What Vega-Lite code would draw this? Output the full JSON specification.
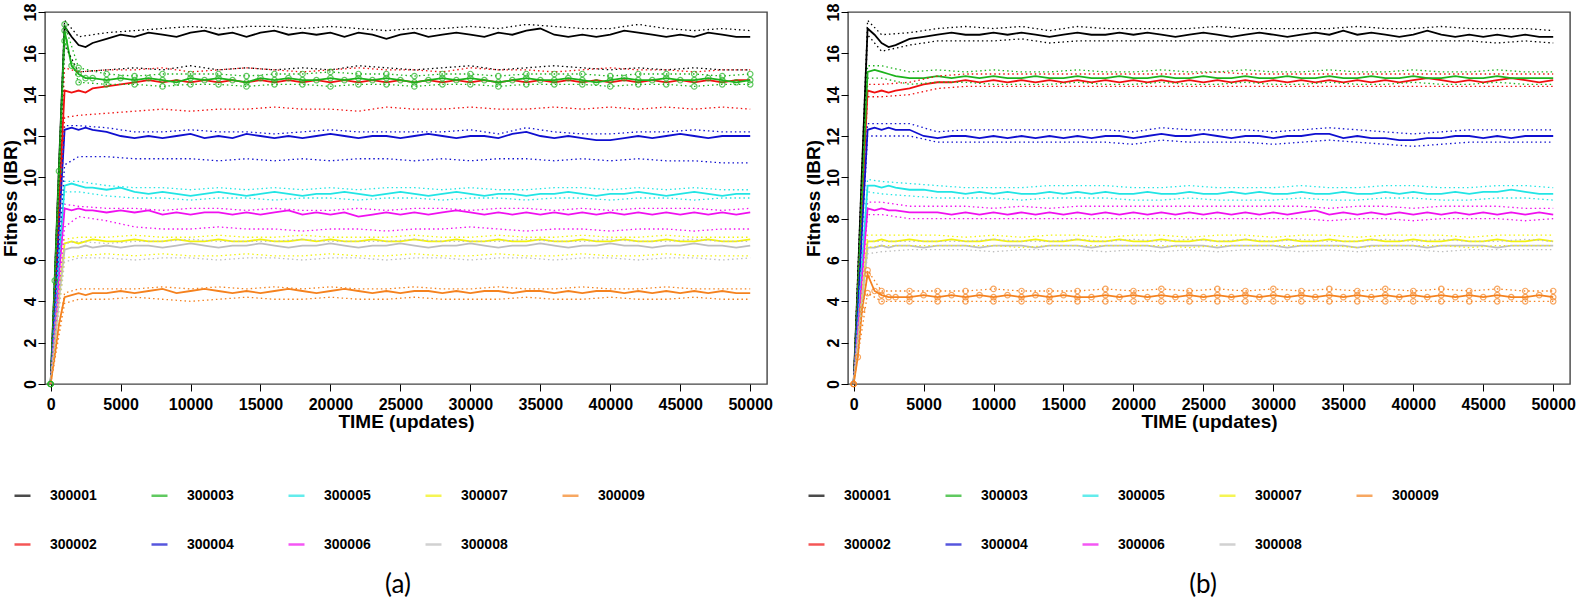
{
"$schema": "https://vega.github.io/schema/vega-lite/v6.json",
"background": "white",
"padding": {"left": 0, "top": 2, "right": 0, "bottom": 0},
"bounds": "flush",
"spacing": 81,
"config": {
  "view": {"stroke": "#444", "strokeWidth": 1.4},
  "axis": {"labelFont": "Liberation Sans", "labelFontWeight": "bold", "labelFontSize": 16, "labelColor": "#000", "titleFont": "Liberation Sans", "titleFontWeight": "bold", "titleFontSize": 19, "titleColor": "#000", "tickColor": "#000", "tickSize": 7, "tickWidth": 1, "domain": false, "grid": false},
  "axisX": {"labelPadding": 5, "titlePadding": 0},
  "axisY": {"labelAngle": -90, "labelAlign": "center", "labelBaseline": "alphabetic", "labelPadding": 3, "titlePadding": 2},
  "legend": {"orient": "none", "direction": "horizontal", "columns": 5, "symbolType": "stroke", "symbolSize": 256, "symbolStrokeWidth": 2.5, "labelFont": "Liberation Sans", "labelFontWeight": "bold", "labelFontSize": 14, "labelColor": "#000", "labelOffset": 18, "columnPadding": 49, "rowPadding": 32}
},
"datasets": {
"am": [
{"t":0,"1":0,"2":0,"3":0,"4":0,"5":0,"6":0,"7":0,"8":0,"9":0},
{"t":300,"1":5.2,"2":4.3,"3":5.0,"4":3.7,"5":2.9,"6":2.6,"7":2.1,"8":2.0,"9":1.4},
{"t":600,"1":10.6,"2":8.8,"3":10.3,"4":7.6,"5":6.0,"6":5.3,"7":4.3,"8":4.1,"9":2.9},
{"t":1000,"1":17.3,"2":14.2,"3":17.1,"4":12.3,"5":9.6,"6":8.5,"7":6.8,"8":6.5,"9":4.2},
{"t":1500,"1":16.8,"2":14.1,"3":15.4,"4":12.4,"5":9.7,"6":8.4,"7":6.9,"8":6.6,"9":4.3},
{"t":2000,"1":16.4,"2":14.2,"3":15.0,"4":12.3,"5":9.6,"6":8.5,"7":6.8,"8":6.6,"9":4.4},
{"t":2500,"1":16.3,"2":14.1,"3":14.8,"4":12.4,"5":9.5,"6":8.4,"7":6.9,"8":6.7,"9":4.3},
{"t":3000,"1":16.5,"2":14.3,"3":14.8,"4":12.3,"5":9.5,"6":8.4,"7":7.0,"8":6.6,"9":4.4},
{"t":4000,"1":16.7,"2":14.4,"3":14.7,"4":12.2,"5":9.4,"6":8.3,"7":6.9,"8":6.7,"9":4.4},
{"t":5000,"1":16.9,"2":14.5,"3":14.8,"4":12.0,"5":9.5,"6":8.4,"7":6.9,"8":6.6,"9":4.5},
{"t":6000,"1":16.8,"2":14.6,"3":14.7,"4":11.9,"5":9.3,"6":8.3,"7":7.0,"8":6.7,"9":4.4},
{"t":7000,"1":17.0,"2":14.7,"3":14.8,"4":12.0,"5":9.2,"6":8.4,"7":6.9,"8":6.7,"9":4.5},
{"t":8000,"1":16.9,"2":14.6,"3":14.7,"4":11.9,"5":9.3,"6":8.2,"7":6.9,"8":6.6,"9":4.6},
{"t":9000,"1":16.8,"2":14.7,"3":14.6,"4":12.0,"5":9.2,"6":8.3,"7":7.0,"8":6.7,"9":4.4},
{"t":10000,"1":17.0,"2":14.6,"3":14.8,"4":12.1,"5":9.1,"6":8.2,"7":6.9,"8":6.8,"9":4.5},
{"t":11000,"1":17.1,"2":14.7,"3":14.7,"4":11.9,"5":9.2,"6":8.3,"7":6.9,"8":6.7,"9":4.6},
{"t":12000,"1":16.9,"2":14.6,"3":14.8,"4":12.0,"5":9.3,"6":8.3,"7":7.0,"8":6.6,"9":4.5},
{"t":13000,"1":17.0,"2":14.7,"3":14.7,"4":11.9,"5":9.2,"6":8.2,"7":6.9,"8":6.7,"9":4.4},
{"t":14000,"1":16.8,"2":14.6,"3":14.6,"4":12.1,"5":9.1,"6":8.3,"7":6.9,"8":6.7,"9":4.5},
{"t":15000,"1":17.0,"2":14.7,"3":14.8,"4":12.0,"5":9.2,"6":8.2,"7":7.0,"8":6.8,"9":4.4},
{"t":16000,"1":17.1,"2":14.6,"3":14.7,"4":11.9,"5":9.3,"6":8.3,"7":6.9,"8":6.7,"9":4.5},
{"t":17000,"1":16.9,"2":14.7,"3":14.8,"4":12.0,"5":9.2,"6":8.4,"7":6.9,"8":6.6,"9":4.6},
{"t":18000,"1":17.0,"2":14.6,"3":14.7,"4":11.9,"5":9.1,"6":8.2,"7":7.0,"8":6.7,"9":4.5},
{"t":19000,"1":16.9,"2":14.7,"3":14.7,"4":12.0,"5":9.2,"6":8.3,"7":6.9,"8":6.7,"9":4.4},
{"t":20000,"1":17.0,"2":14.6,"3":14.8,"4":12.1,"5":9.2,"6":8.2,"7":7.0,"8":6.8,"9":4.5},
{"t":21000,"1":16.8,"2":14.7,"3":14.7,"4":12.0,"5":9.3,"6":8.3,"7":6.9,"8":6.7,"9":4.6},
{"t":22000,"1":17.0,"2":14.6,"3":14.8,"4":11.9,"5":9.2,"6":8.1,"7":6.9,"8":6.6,"9":4.5},
{"t":23000,"1":16.9,"2":14.7,"3":14.7,"4":12.0,"5":9.1,"6":8.2,"7":7.0,"8":6.7,"9":4.4},
{"t":24000,"1":16.7,"2":14.6,"3":14.8,"4":12.0,"5":9.2,"6":8.3,"7":6.9,"8":6.7,"9":4.5},
{"t":25000,"1":16.9,"2":14.7,"3":14.7,"4":11.9,"5":9.3,"6":8.2,"7":6.9,"8":6.8,"9":4.4},
{"t":26000,"1":17.0,"2":14.6,"3":14.6,"4":12.0,"5":9.2,"6":8.3,"7":7.0,"8":6.7,"9":4.5},
{"t":27000,"1":16.8,"2":14.7,"3":14.7,"4":12.1,"5":9.1,"6":8.2,"7":6.9,"8":6.6,"9":4.5},
{"t":28000,"1":16.9,"2":14.6,"3":14.8,"4":12.0,"5":9.2,"6":8.3,"7":6.9,"8":6.7,"9":4.4},
{"t":29000,"1":17.0,"2":14.7,"3":14.7,"4":11.9,"5":9.3,"6":8.4,"7":7.0,"8":6.7,"9":4.5},
{"t":30000,"1":16.9,"2":14.6,"3":14.8,"4":12.0,"5":9.2,"6":8.3,"7":6.9,"8":6.8,"9":4.4},
{"t":31000,"1":16.8,"2":14.7,"3":14.7,"4":12.0,"5":9.1,"6":8.2,"7":6.9,"8":6.7,"9":4.5},
{"t":32000,"1":17.0,"2":14.6,"3":14.6,"4":11.9,"5":9.2,"6":8.3,"7":7.0,"8":6.6,"9":4.5},
{"t":33000,"1":16.9,"2":14.7,"3":14.7,"4":12.1,"5":9.2,"6":8.2,"7":6.9,"8":6.7,"9":4.4},
{"t":34000,"1":17.1,"2":14.6,"3":14.8,"4":12.2,"5":9.1,"6":8.3,"7":6.9,"8":6.7,"9":4.5},
{"t":35000,"1":17.2,"2":14.7,"3":14.7,"4":12.0,"5":9.2,"6":8.2,"7":7.0,"8":6.8,"9":4.5},
{"t":36000,"1":16.9,"2":14.6,"3":14.7,"4":11.9,"5":9.2,"6":8.3,"7":6.9,"8":6.7,"9":4.4},
{"t":37000,"1":16.8,"2":14.7,"3":14.8,"4":12.0,"5":9.3,"6":8.2,"7":6.9,"8":6.6,"9":4.5},
{"t":38000,"1":16.9,"2":14.6,"3":14.7,"4":11.9,"5":9.2,"6":8.3,"7":7.0,"8":6.7,"9":4.4},
{"t":39000,"1":16.8,"2":14.7,"3":14.6,"4":11.8,"5":9.1,"6":8.2,"7":6.9,"8":6.7,"9":4.5},
{"t":40000,"1":16.9,"2":14.6,"3":14.7,"4":11.8,"5":9.2,"6":8.3,"7":6.9,"8":6.8,"9":4.5},
{"t":41000,"1":17.1,"2":14.7,"3":14.8,"4":11.9,"5":9.2,"6":8.2,"7":7.0,"8":6.7,"9":4.4},
{"t":42000,"1":17.0,"2":14.6,"3":14.7,"4":12.0,"5":9.3,"6":8.3,"7":6.9,"8":6.7,"9":4.5},
{"t":43000,"1":16.9,"2":14.7,"3":14.7,"4":11.9,"5":9.2,"6":8.2,"7":6.9,"8":6.6,"9":4.4},
{"t":44000,"1":16.8,"2":14.6,"3":14.8,"4":12.0,"5":9.1,"6":8.3,"7":7.0,"8":6.7,"9":4.5},
{"t":45000,"1":16.9,"2":14.7,"3":14.7,"4":12.1,"5":9.2,"6":8.2,"7":6.9,"8":6.7,"9":4.4},
{"t":46000,"1":16.8,"2":14.6,"3":14.7,"4":12.0,"5":9.3,"6":8.3,"7":6.9,"8":6.8,"9":4.5},
{"t":47000,"1":17.0,"2":14.7,"3":14.8,"4":11.9,"5":9.2,"6":8.2,"7":7.0,"8":6.7,"9":4.4},
{"t":48000,"1":16.9,"2":14.6,"3":14.7,"4":12.0,"5":9.1,"6":8.3,"7":6.9,"8":6.7,"9":4.5},
{"t":49000,"1":16.8,"2":14.7,"3":14.6,"4":12.0,"5":9.2,"6":8.2,"7":6.9,"8":6.6,"9":4.4},
{"t":50000,"1":16.8,"2":14.7,"3":14.7,"4":12.0,"5":9.2,"6":8.3,"7":7.0,"8":6.7,"9":4.4}
],
"ab": [
{"k":"u","t":0,"1":0,"2":0,"3":0,"4":0,"5":0,"6":0,"7":0,"8":0,"9":0},
{"k":"u","t":1000,"1":17.6,"2":15.3,"3":17.4,"4":12.5,"5":9.8,"6":8.7,"7":7.0,"8":6.8,"9":4.4},
{"k":"u","t":2000,"1":16.8,"2":15.1,"3":15.3,"4":12.5,"5":9.8,"6":8.6,"7":7.1,"8":6.9,"9":4.6},
{"k":"u","t":4000,"1":17.0,"2":15.2,"3":15.0,"4":12.4,"5":9.6,"6":8.5,"7":7.1,"8":6.8,"9":4.6},
{"k":"u","t":6000,"1":17.1,"2":15.2,"3":14.9,"4":12.2,"5":9.5,"6":8.5,"7":7.2,"8":6.9,"9":4.6},
{"k":"u","t":8000,"1":17.2,"2":15.3,"3":15.0,"4":12.2,"5":9.5,"6":8.4,"7":7.1,"8":6.9,"9":4.7},
{"k":"u","t":10000,"1":17.3,"2":15.1,"3":15.0,"4":12.3,"5":9.4,"6":8.5,"7":7.1,"8":7.0,"9":4.6},
{"k":"u","t":12000,"1":17.2,"2":15.2,"3":15.0,"4":12.2,"5":9.5,"6":8.5,"7":7.2,"8":6.9,"9":4.7},
{"k":"u","t":14000,"1":17.3,"2":15.3,"3":14.9,"4":12.2,"5":9.4,"6":8.4,"7":7.1,"8":6.9,"9":4.6},
{"k":"u","t":16000,"1":17.3,"2":15.2,"3":15.0,"4":12.1,"5":9.5,"6":8.5,"7":7.1,"8":6.9,"9":4.7},
{"k":"u","t":18000,"1":17.2,"2":15.1,"3":15.0,"4":12.2,"5":9.4,"6":8.4,"7":7.2,"8":7.0,"9":4.6},
{"k":"u","t":20000,"1":17.3,"2":15.2,"3":15.1,"4":12.3,"5":9.5,"6":8.4,"7":7.1,"8":6.9,"9":4.7},
{"k":"u","t":22000,"1":17.2,"2":15.3,"3":15.0,"4":12.2,"5":9.4,"6":8.5,"7":7.1,"8":6.9,"9":4.6},
{"k":"u","t":24000,"1":17.1,"2":15.2,"3":15.0,"4":12.2,"5":9.5,"6":8.4,"7":7.1,"8":6.9,"9":4.6},
{"k":"u","t":26000,"1":17.2,"2":15.2,"3":14.9,"4":12.2,"5":9.5,"6":8.5,"7":7.2,"8":7.0,"9":4.7},
{"k":"u","t":28000,"1":17.2,"2":15.1,"3":15.0,"4":12.2,"5":9.4,"6":8.5,"7":7.1,"8":6.9,"9":4.6},
{"k":"u","t":30000,"1":17.3,"2":15.3,"3":15.0,"4":12.3,"5":9.5,"6":8.4,"7":7.1,"8":6.9,"9":4.6},
{"k":"u","t":32000,"1":17.2,"2":15.2,"3":14.9,"4":12.1,"5":9.4,"6":8.5,"7":7.2,"8":6.9,"9":4.7},
{"k":"u","t":34000,"1":17.4,"2":15.2,"3":15.0,"4":12.4,"5":9.4,"6":8.5,"7":7.1,"8":7.0,"9":4.6},
{"k":"u","t":36000,"1":17.3,"2":15.1,"3":15.0,"4":12.2,"5":9.5,"6":8.4,"7":7.1,"8":6.9,"9":4.6},
{"k":"u","t":38000,"1":17.2,"2":15.2,"3":15.0,"4":12.1,"5":9.5,"6":8.5,"7":7.2,"8":6.9,"9":4.7},
{"k":"u","t":40000,"1":17.2,"2":15.3,"3":14.9,"4":12.1,"5":9.4,"6":8.4,"7":7.1,"8":7.0,"9":4.6},
{"k":"u","t":42000,"1":17.4,"2":15.2,"3":15.0,"4":12.2,"5":9.5,"6":8.5,"7":7.1,"8":6.9,"9":4.6},
{"k":"u","t":44000,"1":17.2,"2":15.2,"3":15.0,"4":12.2,"5":9.4,"6":8.5,"7":7.2,"8":6.9,"9":4.7},
{"k":"u","t":46000,"1":17.1,"2":15.1,"3":15.0,"4":12.3,"5":9.5,"6":8.5,"7":7.1,"8":7.0,"9":4.6},
{"k":"u","t":48000,"1":17.2,"2":15.2,"3":14.9,"4":12.2,"5":9.4,"6":8.4,"7":7.1,"8":6.9,"9":4.6},
{"k":"u","t":50000,"1":17.1,"2":15.2,"3":15.0,"4":12.2,"5":9.4,"6":8.5,"7":7.1,"8":6.9,"9":4.6},
{"k":"l","t":0,"1":0,"2":0,"3":0,"4":0,"5":0,"6":0,"7":0,"8":0,"9":0},
{"k":"l","t":1000,"1":16.4,"2":12.9,"3":16.6,"4":10.6,"5":9.3,"6":7.6,"7":6.1,"8":5.9,"9":3.9},
{"k":"l","t":2000,"1":15.1,"2":13.0,"3":14.6,"4":11.0,"5":9.3,"6":8.1,"7":6.2,"8":6.1,"9":4.1},
{"k":"l","t":4000,"1":15.2,"2":13.1,"3":14.5,"4":11.0,"5":9.1,"6":7.9,"7":6.3,"8":6.1,"9":4.1},
{"k":"l","t":6000,"1":15.3,"2":13.2,"3":14.5,"4":10.9,"5":9.0,"6":7.6,"7":6.2,"8":6.0,"9":4.2},
{"k":"l","t":8000,"1":15.2,"2":13.3,"3":14.4,"4":10.9,"5":9.0,"6":7.5,"7":6.3,"8":6.1,"9":4.1},
{"k":"l","t":10000,"1":15.4,"2":13.2,"3":14.5,"4":10.9,"5":8.9,"6":7.5,"7":6.2,"8":6.1,"9":4.0},
{"k":"l","t":12000,"1":15.2,"2":13.3,"3":14.5,"4":10.8,"5":9.0,"6":7.6,"7":6.2,"8":6.0,"9":4.1},
{"k":"l","t":14000,"1":15.3,"2":13.3,"3":14.4,"4":10.9,"5":9.0,"6":7.5,"7":6.3,"8":6.1,"9":4.2},
{"k":"l","t":16000,"1":15.2,"2":13.4,"3":14.5,"4":10.8,"5":8.9,"6":7.5,"7":6.2,"8":6.1,"9":4.1},
{"k":"l","t":18000,"1":15.3,"2":13.3,"3":14.5,"4":10.9,"5":9.0,"6":7.4,"7":6.2,"8":6.0,"9":4.1},
{"k":"l","t":20000,"1":15.2,"2":13.3,"3":14.4,"4":10.8,"5":9.0,"6":7.5,"7":6.3,"8":6.1,"9":4.2},
{"k":"l","t":22000,"1":15.4,"2":13.2,"3":14.5,"4":10.9,"5":8.9,"6":7.5,"7":6.2,"8":6.1,"9":4.1},
{"k":"l","t":24000,"1":15.3,"2":13.4,"3":14.5,"4":10.9,"5":9.0,"6":7.4,"7":6.2,"8":6.0,"9":4.1},
{"k":"l","t":26000,"1":15.2,"2":13.3,"3":14.4,"4":10.8,"5":9.0,"6":7.5,"7":6.3,"8":6.1,"9":4.2},
{"k":"l","t":28000,"1":15.3,"2":13.3,"3":14.5,"4":10.9,"5":8.9,"6":7.5,"7":6.2,"8":6.1,"9":4.1},
{"k":"l","t":30000,"1":15.4,"2":13.4,"3":14.5,"4":10.8,"5":9.0,"6":7.6,"7":6.2,"8":6.0,"9":4.1},
{"k":"l","t":32000,"1":15.2,"2":13.3,"3":14.4,"4":10.9,"5":9.0,"6":7.5,"7":6.3,"8":6.1,"9":4.1},
{"k":"l","t":34000,"1":15.3,"2":13.3,"3":14.5,"4":10.9,"5":8.9,"6":7.4,"7":6.2,"8":6.1,"9":4.2},
{"k":"l","t":36000,"1":15.4,"2":13.4,"3":14.5,"4":10.8,"5":9.0,"6":7.5,"7":6.2,"8":6.0,"9":4.1},
{"k":"l","t":38000,"1":15.3,"2":13.3,"3":14.5,"4":10.9,"5":9.0,"6":7.5,"7":6.3,"8":6.1,"9":4.1},
{"k":"l","t":40000,"1":15.2,"2":13.4,"3":14.4,"4":10.8,"5":8.9,"6":7.4,"7":6.2,"8":6.1,"9":4.2},
{"k":"l","t":42000,"1":15.3,"2":13.3,"3":14.5,"4":10.9,"5":9.0,"6":7.5,"7":6.2,"8":6.0,"9":4.1},
{"k":"l","t":44000,"1":15.2,"2":13.4,"3":14.5,"4":10.8,"5":9.0,"6":7.5,"7":6.3,"8":6.1,"9":4.1},
{"k":"l","t":46000,"1":15.3,"2":13.3,"3":14.4,"4":10.8,"5":8.9,"6":7.4,"7":6.2,"8":6.1,"9":4.2},
{"k":"l","t":48000,"1":15.2,"2":13.4,"3":14.5,"4":10.7,"5":9.0,"6":7.5,"7":6.2,"8":6.0,"9":4.1},
{"k":"l","t":50000,"1":15.2,"2":13.3,"3":14.5,"4":10.7,"5":9.0,"6":7.5,"7":6.2,"8":6.1,"9":4.1}
],
"bm": [
{"t":0,"1":0,"2":0,"3":0,"4":0,"5":0,"6":0,"7":0,"8":0,"9":0},
{"t":300,"1":5.0,"2":4.2,"3":4.5,"4":3.6,"5":2.8,"6":2.5,"7":2.1,"8":2.0,"9":1.3},
{"t":600,"1":10.4,"2":8.7,"3":9.2,"4":7.5,"5":5.8,"6":5.2,"7":4.2,"8":4.0,"9":3.6},
{"t":1000,"1":17.2,"2":14.2,"3":15.1,"4":12.3,"5":9.6,"6":8.5,"7":6.9,"8":6.6,"9":5.3},
{"t":1500,"1":16.9,"2":14.1,"3":15.2,"4":12.4,"5":9.6,"6":8.4,"7":6.9,"8":6.6,"9":4.5},
{"t":2000,"1":16.5,"2":14.2,"3":15.1,"4":12.3,"5":9.5,"6":8.5,"7":7.0,"8":6.7,"9":4.3},
{"t":2500,"1":16.3,"2":14.1,"3":15.0,"4":12.4,"5":9.6,"6":8.4,"7":6.9,"8":6.6,"9":4.2},
{"t":3000,"1":16.4,"2":14.2,"3":14.9,"4":12.3,"5":9.5,"6":8.4,"7":6.9,"8":6.7,"9":4.2},
{"t":4000,"1":16.7,"2":14.3,"3":14.8,"4":12.3,"5":9.4,"6":8.3,"7":7.0,"8":6.7,"9":4.2},
{"t":5000,"1":16.8,"2":14.5,"3":14.8,"4":12.0,"5":9.4,"6":8.3,"7":6.9,"8":6.6,"9":4.3},
{"t":6000,"1":16.9,"2":14.6,"3":14.9,"4":11.9,"5":9.3,"6":8.3,"7":6.9,"8":6.7,"9":4.2},
{"t":7000,"1":17.0,"2":14.6,"3":14.8,"4":12.0,"5":9.3,"6":8.2,"7":7.0,"8":6.7,"9":4.3},
{"t":8000,"1":16.9,"2":14.7,"3":14.9,"4":12.0,"5":9.2,"6":8.3,"7":6.9,"8":6.7,"9":4.2},
{"t":9000,"1":16.9,"2":14.6,"3":14.8,"4":11.9,"5":9.3,"6":8.2,"7":6.9,"8":6.6,"9":4.3},
{"t":10000,"1":17.0,"2":14.7,"3":14.9,"4":12.0,"5":9.2,"6":8.3,"7":7.0,"8":6.7,"9":4.2},
{"t":11000,"1":16.9,"2":14.6,"3":14.8,"4":11.9,"5":9.3,"6":8.2,"7":6.9,"8":6.7,"9":4.3},
{"t":12000,"1":17.0,"2":14.7,"3":14.8,"4":12.0,"5":9.2,"6":8.3,"7":6.9,"8":6.7,"9":4.2},
{"t":13000,"1":16.9,"2":14.6,"3":14.9,"4":11.9,"5":9.2,"6":8.2,"7":7.0,"8":6.6,"9":4.3},
{"t":14000,"1":16.8,"2":14.7,"3":14.8,"4":12.0,"5":9.3,"6":8.3,"7":6.9,"8":6.7,"9":4.2},
{"t":15000,"1":16.9,"2":14.6,"3":14.8,"4":11.9,"5":9.2,"6":8.2,"7":6.9,"8":6.7,"9":4.3},
{"t":16000,"1":17.0,"2":14.7,"3":14.9,"4":12.0,"5":9.3,"6":8.3,"7":7.0,"8":6.7,"9":4.2},
{"t":17000,"1":16.9,"2":14.6,"3":14.8,"4":11.9,"5":9.2,"6":8.2,"7":6.9,"8":6.6,"9":4.2},
{"t":18000,"1":16.9,"2":14.7,"3":14.8,"4":12.0,"5":9.3,"6":8.3,"7":6.9,"8":6.7,"9":4.3},
{"t":19000,"1":17.0,"2":14.6,"3":14.9,"4":12.0,"5":9.2,"6":8.2,"7":7.0,"8":6.7,"9":4.2},
{"t":20000,"1":16.9,"2":14.7,"3":14.8,"4":11.9,"5":9.2,"6":8.3,"7":6.9,"8":6.7,"9":4.3},
{"t":21000,"1":17.0,"2":14.6,"3":14.8,"4":12.0,"5":9.3,"6":8.2,"7":6.9,"8":6.7,"9":4.2},
{"t":22000,"1":16.9,"2":14.7,"3":14.9,"4":12.1,"5":9.2,"6":8.3,"7":7.0,"8":6.6,"9":4.3},
{"t":23000,"1":16.8,"2":14.6,"3":14.8,"4":12.0,"5":9.2,"6":8.2,"7":6.9,"8":6.7,"9":4.2},
{"t":24000,"1":16.9,"2":14.7,"3":14.8,"4":12.0,"5":9.3,"6":8.3,"7":6.9,"8":6.7,"9":4.3},
{"t":25000,"1":17.0,"2":14.6,"3":14.9,"4":12.1,"5":9.2,"6":8.2,"7":7.0,"8":6.7,"9":4.2},
{"t":26000,"1":16.9,"2":14.7,"3":14.8,"4":12.0,"5":9.2,"6":8.3,"7":6.9,"8":6.6,"9":4.3},
{"t":27000,"1":16.8,"2":14.6,"3":14.8,"4":11.9,"5":9.3,"6":8.2,"7":6.9,"8":6.7,"9":4.2},
{"t":28000,"1":16.9,"2":14.7,"3":14.9,"4":12.0,"5":9.2,"6":8.3,"7":7.0,"8":6.7,"9":4.3},
{"t":29000,"1":17.0,"2":14.6,"3":14.8,"4":12.0,"5":9.3,"6":8.2,"7":6.9,"8":6.7,"9":4.2},
{"t":30000,"1":16.9,"2":14.7,"3":14.8,"4":11.9,"5":9.2,"6":8.3,"7":6.9,"8":6.7,"9":4.3},
{"t":31000,"1":16.8,"2":14.6,"3":14.9,"4":12.0,"5":9.2,"6":8.2,"7":7.0,"8":6.6,"9":4.2},
{"t":32000,"1":16.9,"2":14.7,"3":14.8,"4":12.0,"5":9.3,"6":8.3,"7":6.9,"8":6.7,"9":4.3},
{"t":33000,"1":17.0,"2":14.6,"3":14.8,"4":12.1,"5":9.2,"6":8.4,"7":6.9,"8":6.7,"9":4.2},
{"t":34000,"1":16.9,"2":14.7,"3":14.9,"4":12.1,"5":9.2,"6":8.2,"7":7.0,"8":6.7,"9":4.3},
{"t":35000,"1":17.1,"2":14.6,"3":14.8,"4":11.9,"5":9.3,"6":8.3,"7":6.9,"8":6.7,"9":4.2},
{"t":36000,"1":16.9,"2":14.7,"3":14.8,"4":12.0,"5":9.2,"6":8.2,"7":6.9,"8":6.6,"9":4.3},
{"t":37000,"1":17.0,"2":14.6,"3":14.9,"4":11.9,"5":9.2,"6":8.3,"7":7.0,"8":6.7,"9":4.2},
{"t":38000,"1":16.9,"2":14.7,"3":14.8,"4":11.9,"5":9.3,"6":8.2,"7":6.9,"8":6.7,"9":4.3},
{"t":39000,"1":16.8,"2":14.6,"3":14.8,"4":11.8,"5":9.2,"6":8.3,"7":6.9,"8":6.7,"9":4.2},
{"t":40000,"1":16.9,"2":14.7,"3":14.9,"4":11.8,"5":9.3,"6":8.2,"7":7.0,"8":6.7,"9":4.3},
{"t":41000,"1":17.1,"2":14.8,"3":14.8,"4":11.9,"5":9.2,"6":8.3,"7":6.9,"8":6.6,"9":4.2},
{"t":42000,"1":16.9,"2":14.7,"3":14.8,"4":11.9,"5":9.2,"6":8.2,"7":6.9,"8":6.7,"9":4.3},
{"t":43000,"1":16.8,"2":14.6,"3":14.9,"4":12.0,"5":9.3,"6":8.3,"7":7.0,"8":6.7,"9":4.2},
{"t":44000,"1":16.9,"2":14.7,"3":14.8,"4":12.0,"5":9.2,"6":8.2,"7":6.9,"8":6.7,"9":4.3},
{"t":45000,"1":16.8,"2":14.6,"3":14.8,"4":11.9,"5":9.3,"6":8.3,"7":6.9,"8":6.7,"9":4.2},
{"t":46000,"1":16.9,"2":14.7,"3":14.9,"4":12.0,"5":9.3,"6":8.2,"7":7.0,"8":6.6,"9":4.3},
{"t":47000,"1":16.8,"2":14.8,"3":14.8,"4":11.9,"5":9.4,"6":8.3,"7":6.9,"8":6.7,"9":4.2},
{"t":48000,"1":16.9,"2":14.7,"3":14.8,"4":12.0,"5":9.3,"6":8.2,"7":6.9,"8":6.7,"9":4.2},
{"t":49000,"1":16.8,"2":14.6,"3":14.8,"4":12.0,"5":9.2,"6":8.3,"7":7.0,"8":6.7,"9":4.3},
{"t":50000,"1":16.8,"2":14.7,"3":14.8,"4":12.0,"5":9.2,"6":8.2,"7":6.9,"8":6.7,"9":4.2}
],
"bb": [
{"k":"u","t":0,"1":0,"2":0,"3":0,"4":0,"5":0,"6":0,"7":0,"8":0,"9":0},
{"k":"u","t":1000,"1":17.6,"2":14.5,"3":15.4,"4":12.6,"5":9.9,"6":8.8,"7":7.2,"8":6.9,"9":5.5},
{"k":"u","t":2000,"1":16.9,"2":14.5,"3":15.4,"4":12.6,"5":9.8,"6":8.8,"7":7.2,"8":6.9,"9":4.5},
{"k":"u","t":4000,"1":17.0,"2":14.6,"3":15.1,"4":12.6,"5":9.7,"6":8.6,"7":7.2,"8":6.9,"9":4.5},
{"k":"u","t":6000,"1":17.2,"2":14.9,"3":15.2,"4":12.2,"5":9.6,"6":8.6,"7":7.2,"8":6.9,"9":4.5},
{"k":"u","t":8000,"1":17.3,"2":15.0,"3":15.1,"4":12.3,"5":9.5,"6":8.6,"7":7.1,"8":6.9,"9":4.5},
{"k":"u","t":10000,"1":17.2,"2":15.0,"3":15.2,"4":12.3,"5":9.5,"6":8.5,"7":7.2,"8":7.0,"9":4.6},
{"k":"u","t":12000,"1":17.3,"2":15.0,"3":15.1,"4":12.3,"5":9.5,"6":8.6,"7":7.1,"8":6.9,"9":4.5},
{"k":"u","t":14000,"1":17.1,"2":15.0,"3":15.1,"4":12.3,"5":9.6,"6":8.5,"7":7.2,"8":6.9,"9":4.5},
{"k":"u","t":16000,"1":17.3,"2":15.0,"3":15.2,"4":12.3,"5":9.6,"6":8.6,"7":7.2,"8":7.0,"9":4.5},
{"k":"u","t":18000,"1":17.2,"2":15.0,"3":15.1,"4":12.3,"5":9.6,"6":8.6,"7":7.1,"8":6.9,"9":4.6},
{"k":"u","t":20000,"1":17.2,"2":15.0,"3":15.1,"4":12.2,"5":9.5,"6":8.6,"7":7.2,"8":7.0,"9":4.5},
{"k":"u","t":22000,"1":17.2,"2":15.0,"3":15.2,"4":12.4,"5":9.5,"6":8.6,"7":7.2,"8":6.9,"9":4.6},
{"k":"u","t":24000,"1":17.2,"2":15.0,"3":15.1,"4":12.3,"5":9.6,"6":8.6,"7":7.1,"8":7.0,"9":4.5},
{"k":"u","t":26000,"1":17.3,"2":15.1,"3":15.1,"4":12.3,"5":9.5,"6":8.6,"7":7.2,"8":6.9,"9":4.6},
{"k":"u","t":28000,"1":17.2,"2":15.0,"3":15.2,"4":12.3,"5":9.5,"6":8.6,"7":7.2,"8":7.0,"9":4.5},
{"k":"u","t":30000,"1":17.2,"2":15.0,"3":15.1,"4":12.2,"5":9.5,"6":8.6,"7":7.1,"8":6.9,"9":4.6},
{"k":"u","t":32000,"1":17.2,"2":15.0,"3":15.1,"4":12.3,"5":9.6,"6":8.6,"7":7.2,"8":7.0,"9":4.5},
{"k":"u","t":34000,"1":17.2,"2":15.0,"3":15.2,"4":12.4,"5":9.5,"6":8.5,"7":7.2,"8":6.9,"9":4.6},
{"k":"u","t":36000,"1":17.3,"2":15.0,"3":15.1,"4":12.3,"5":9.5,"6":8.6,"7":7.1,"8":6.9,"9":4.5},
{"k":"u","t":38000,"1":17.2,"2":15.0,"3":15.1,"4":12.2,"5":9.6,"6":8.6,"7":7.2,"8":7.0,"9":4.6},
{"k":"u","t":40000,"1":17.2,"2":15.0,"3":15.2,"4":12.1,"5":9.6,"6":8.5,"7":7.2,"8":6.9,"9":4.5},
{"k":"u","t":42000,"1":17.3,"2":15.0,"3":15.1,"4":12.2,"5":9.5,"6":8.6,"7":7.2,"8":7.0,"9":4.6},
{"k":"u","t":44000,"1":17.2,"2":15.0,"3":15.1,"4":12.3,"5":9.5,"6":8.6,"7":7.1,"8":6.9,"9":4.5},
{"k":"u","t":46000,"1":17.2,"2":15.0,"3":15.2,"4":12.3,"5":9.6,"6":8.6,"7":7.2,"8":6.9,"9":4.6},
{"k":"u","t":48000,"1":17.2,"2":15.0,"3":15.1,"4":12.3,"5":9.6,"6":8.5,"7":7.2,"8":7.0,"9":4.5},
{"k":"u","t":50000,"1":17.1,"2":15.0,"3":15.1,"4":12.3,"5":9.5,"6":8.5,"7":7.2,"8":6.9,"9":4.5},
{"k":"l","t":0,"1":0,"2":0,"3":0,"4":0,"5":0,"6":0,"7":0,"8":0,"9":0},
{"k":"l","t":1000,"1":16.9,"2":13.9,"3":14.8,"4":12.0,"5":9.3,"6":8.2,"7":6.6,"8":6.3,"9":4.4},
{"k":"l","t":2000,"1":16.1,"2":13.9,"3":14.8,"4":12.0,"5":9.2,"6":8.2,"7":6.7,"8":6.4,"9":4.0},
{"k":"l","t":4000,"1":16.4,"2":14.0,"3":14.5,"4":12.0,"5":9.1,"6":8.0,"7":6.7,"8":6.5,"9":4.0},
{"k":"l","t":6000,"1":16.6,"2":14.3,"3":14.6,"4":11.7,"5":9.0,"6":8.0,"7":6.7,"8":6.5,"9":4.0},
{"k":"l","t":8000,"1":16.6,"2":14.4,"3":14.6,"4":11.7,"5":9.0,"6":8.0,"7":6.7,"8":6.5,"9":4.0},
{"k":"l","t":10000,"1":16.6,"2":14.4,"3":14.5,"4":11.7,"5":9.0,"6":8.0,"7":6.7,"8":6.4,"9":4.0},
{"k":"l","t":12000,"1":16.7,"2":14.4,"3":14.5,"4":11.7,"5":8.9,"6":8.0,"7":6.6,"8":6.5,"9":4.0},
{"k":"l","t":14000,"1":16.5,"2":14.4,"3":14.5,"4":11.7,"5":9.0,"6":8.0,"7":6.7,"8":6.5,"9":4.0},
{"k":"l","t":16000,"1":16.6,"2":14.4,"3":14.6,"4":11.7,"5":9.0,"6":8.0,"7":6.7,"8":6.5,"9":4.0},
{"k":"l","t":18000,"1":16.6,"2":14.4,"3":14.5,"4":11.7,"5":9.0,"6":8.0,"7":6.7,"8":6.4,"9":4.0},
{"k":"l","t":20000,"1":16.6,"2":14.4,"3":14.5,"4":11.6,"5":8.9,"6":8.0,"7":6.7,"8":6.5,"9":4.0},
{"k":"l","t":22000,"1":16.6,"2":14.4,"3":14.6,"4":11.8,"5":8.9,"6":8.0,"7":6.7,"8":6.4,"9":4.0},
{"k":"l","t":24000,"1":16.6,"2":14.4,"3":14.5,"4":11.7,"5":9.0,"6":8.0,"7":6.6,"8":6.5,"9":4.0},
{"k":"l","t":26000,"1":16.6,"2":14.4,"3":14.5,"4":11.7,"5":8.9,"6":8.0,"7":6.7,"8":6.4,"9":4.0},
{"k":"l","t":28000,"1":16.6,"2":14.4,"3":14.6,"4":11.7,"5":8.9,"6":8.0,"7":6.7,"8":6.5,"9":4.0},
{"k":"l","t":30000,"1":16.6,"2":14.4,"3":14.5,"4":11.6,"5":8.9,"6":8.0,"7":6.7,"8":6.5,"9":4.0},
{"k":"l","t":32000,"1":16.6,"2":14.4,"3":14.5,"4":11.7,"5":9.0,"6":8.0,"7":6.7,"8":6.4,"9":4.0},
{"k":"l","t":34000,"1":16.6,"2":14.4,"3":14.6,"4":11.8,"5":8.9,"6":7.9,"7":6.7,"8":6.5,"9":4.0},
{"k":"l","t":36000,"1":16.6,"2":14.4,"3":14.5,"4":11.7,"5":8.9,"6":8.0,"7":6.6,"8":6.4,"9":4.0},
{"k":"l","t":38000,"1":16.6,"2":14.4,"3":14.5,"4":11.6,"5":9.0,"6":8.0,"7":6.7,"8":6.5,"9":4.0},
{"k":"l","t":40000,"1":16.6,"2":14.4,"3":14.6,"4":11.5,"5":9.0,"6":7.9,"7":6.7,"8":6.5,"9":4.0},
{"k":"l","t":42000,"1":16.6,"2":14.4,"3":14.5,"4":11.6,"5":8.9,"6":8.0,"7":6.7,"8":6.4,"9":4.0},
{"k":"l","t":44000,"1":16.6,"2":14.4,"3":14.5,"4":11.7,"5":8.9,"6":8.0,"7":6.6,"8":6.5,"9":4.0},
{"k":"l","t":46000,"1":16.5,"2":14.4,"3":14.6,"4":11.7,"5":9.0,"6":8.0,"7":6.7,"8":6.5,"9":4.0},
{"k":"l","t":48000,"1":16.6,"2":14.4,"3":14.5,"4":11.7,"5":9.0,"6":7.9,"7":6.7,"8":6.5,"9":4.0},
{"k":"l","t":50000,"1":16.5,"2":14.4,"3":14.5,"4":11.7,"5":8.9,"6":8.0,"7":6.7,"8":6.5,"9":4.0}
]
},
"resolve": {"legend": {"color": "independent"}},
"hconcat": [
{
 "width": 722, "height": 372,
 "title": {"text": "(a)", "orient": "bottom", "anchor": "middle", "font": "Lato", "fontSize": 26, "fontWeight": "normal", "color": "#000", "offset": 20, "dx": -8},
 "layer": [
  {"data": {"name": "am"}, "transform": [{"fold": ["1","2","3","4","5","6","7","8","9"], "as": ["s","y"]}],
   "mark": {"type": "line", "strokeWidth": 1.8},
   "encoding": {
    "x": {"field": "t", "type": "quantitative", "scale": {"domain": [-400, 51200], "nice": false, "zero": false}, "axis": {"title": "TIME (updates)", "values": [0,5000,10000,15000,20000,25000,30000,35000,40000,45000,50000], "format": "d"}},
    "y": {"field": "y", "type": "quantitative", "scale": {"domain": [0, 18], "nice": false}, "axis": {"title": "Fitness (IBR)", "values": [0,2,4,6,8,10,12,14,16,18]}},
    "color": {"field": "s", "type": "nominal", "scale": {"domain": ["1","3","5","7","9","2","4","6","8"], "range": ["#000000","#1DB31D","#22E5E5","#F2F20D","#F5821F","#F01010","#1010D0","#F010F0","#BEBEBE"]}, "legend": {"title": null, "orient": "none", "legendX": -32, "legendY": 474, "symbolType": "stroke", "symbolDash": [], "labelExpr": "'30000' + datum.label"}}
   }},
  {"data": {"name": "ab"}, "transform": [{"fold": ["1","2","3","4","5","6","7","8","9"], "as": ["s","y"]}],
   "mark": {"type": "line", "strokeDash": [1.5, 3], "strokeWidth": 1.3},
   "encoding": {
    "x": {"field": "t", "type": "quantitative"},
    "y": {"field": "y", "type": "quantitative"},
    "color": {"field": "s", "type": "nominal"},
    "detail": {"field": "k"}
   }},
  {"data": {"name": "am"}, "transform": [{"fold": ["3"], "as": ["s","y"]}],
   "mark": {"type": "point", "shape": "circle", "filled": false, "size": 30, "strokeWidth": 1.2},
   "encoding": {
    "x": {"field": "t", "type": "quantitative"},
    "y": {"field": "y", "type": "quantitative"},
    "color": {"field": "s", "type": "nominal"}
   }},
  {"data": {"name": "ab"}, "transform": [{"fold": ["3"], "as": ["s","y"]}],
   "mark": {"type": "point", "shape": "circle", "filled": false, "size": 30, "strokeWidth": 1.2},
   "encoding": {
    "x": {"field": "t", "type": "quantitative"},
    "y": {"field": "y", "type": "quantitative"},
    "color": {"field": "s", "type": "nominal"}
   }}
 ]
},
{
 "width": 722, "height": 372,
 "title": {"text": "(b)", "orient": "bottom", "anchor": "middle", "font": "Lato", "fontSize": 26, "fontWeight": "normal", "color": "#000", "offset": 20, "dx": -6},
 "layer": [
  {"data": {"name": "bm"}, "transform": [{"fold": ["1","2","3","4","5","6","7","8","9"], "as": ["s","y"]}],
   "mark": {"type": "line", "strokeWidth": 1.8},
   "encoding": {
    "x": {"field": "t", "type": "quantitative", "scale": {"domain": [-400, 51200], "nice": false, "zero": false}, "axis": {"title": "TIME (updates)", "values": [0,5000,10000,15000,20000,25000,30000,35000,40000,45000,50000], "format": "d"}},
    "y": {"field": "y", "type": "quantitative", "scale": {"domain": [0, 18], "nice": false}, "axis": {"title": "Fitness (IBR)", "values": [0,2,4,6,8,10,12,14,16,18]}},
    "color": {"field": "s", "type": "nominal", "legend": {"title": null, "orient": "none", "legendX": -41, "legendY": 474, "symbolType": "stroke", "symbolDash": [], "labelExpr": "'30000' + datum.label"}}
   }},
  {"data": {"name": "bb"}, "transform": [{"fold": ["1","2","3","4","5","6","7","8","9"], "as": ["s","y"]}],
   "mark": {"type": "line", "strokeDash": [1.5, 3], "strokeWidth": 1.3},
   "encoding": {
    "x": {"field": "t", "type": "quantitative"},
    "y": {"field": "y", "type": "quantitative"},
    "color": {"field": "s", "type": "nominal"},
    "detail": {"field": "k"}
   }},
  {"data": {"name": "bm"}, "transform": [{"fold": ["9"], "as": ["s","y"]}],
   "mark": {"type": "point", "shape": "circle", "filled": false, "size": 30, "strokeWidth": 1.2},
   "encoding": {
    "x": {"field": "t", "type": "quantitative"},
    "y": {"field": "y", "type": "quantitative"},
    "color": {"field": "s", "type": "nominal"}
   }},
  {"data": {"name": "bb"}, "transform": [{"fold": ["9"], "as": ["s","y"]}],
   "mark": {"type": "point", "shape": "circle", "filled": false, "size": 30, "strokeWidth": 1.2},
   "encoding": {
    "x": {"field": "t", "type": "quantitative"},
    "y": {"field": "y", "type": "quantitative"},
    "color": {"field": "s", "type": "nominal"}
   }}
 ]
}
]
}
